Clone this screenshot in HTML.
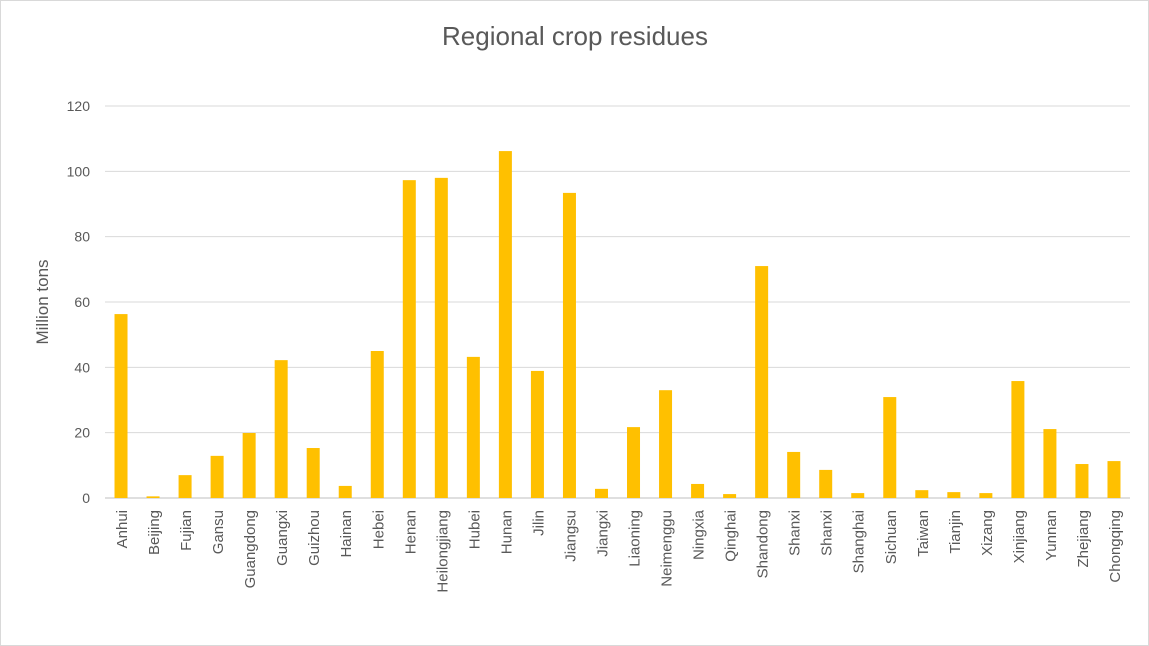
<!DOCTYPE html>
<html><head><meta charset="utf-8"><style>
body{margin:0;background:#fff;font-family:"Liberation Sans",Arial,sans-serif}
svg{display:block}
</style></head><body>
<svg id="chart" width="1149" height="646" xmlns="http://www.w3.org/2000/svg">
<rect x="0.5" y="0.5" width="1148" height="645" fill="#fff" stroke="#d9d9d9"/>
<text x="575" y="45" text-anchor="middle" font-size="26" fill="#595959">Regional crop residues</text>
<text transform="translate(48,302) rotate(-90)" text-anchor="middle" font-size="17" fill="#595959">Million tons</text>
<g id="grid"></g><g id="bars"></g><g id="xlabels"></g>
</svg>
<script>
const categories=["Anhui","Beijing","Fujian","Gansu","Guangdong","Guangxi","Guizhou","Hainan","Hebei","Henan","Heilongjiang","Hubei","Hunan","Jilin","Jiangsu","Jiangxi","Liaoning","Neimenggu","Ningxia","Qinghai","Shandong","Shanxi","Shanxi","Shanghai","Sichuan","Taiwan","Tianjin","Xizang","Xinjiang","Yunnan","Zhejiang","Chongqing"];
const values=[56.3,0.5,7,12.9,19.9,42.2,15.3,3.7,45,97.3,98,43.2,106.2,38.9,93.4,2.8,21.7,33,4.3,1.2,71,14.1,8.6,1.5,30.9,2.4,1.8,1.5,35.8,21.1,10.4,11.3];
const yTicks=[0,20,40,60,80,100,120];
const NS="http://www.w3.org/2000/svg";
const x0=105,x1=1130,yBase=498,yTop=106,yMax=120;
const y=v=>yBase-(v/yMax)*(yBase-yTop);
const band=(x1-x0)/categories.length;
const xc=i=>x0+band*(i+0.5);
const grid=document.getElementById('grid'),bars=document.getElementById('bars'),xl=document.getElementById('xlabels');
yTicks.forEach(t=>{
 const l=document.createElementNS(NS,'line');
 
 
 l.setAttribute('x1',x0);l.setAttribute('x2',x1);l.setAttribute('y1',y(t));l.setAttribute('y2',y(t));
 l.setAttribute('stroke',t===0?'#bfbfbf':'#d9d9d9');l.setAttribute('stroke-width','1');
 grid.appendChild(l);
 const tx=document.createElementNS(NS,'text');
 
 
 tx.setAttribute('x',90);tx.setAttribute('y',y(t)+5);tx.setAttribute('text-anchor','end');
 tx.setAttribute('font-size','14');tx.setAttribute('fill','#595959');tx.textContent=t;
 grid.appendChild(tx);
});
categories.forEach((c,i)=>{
 const r=document.createElementNS(NS,'rect');
 
 
 r.setAttribute('x',xc(i)-6.5);r.setAttribute('width',13);
 r.setAttribute('y',y(values[i]));r.setAttribute('height',yBase-y(values[i]));
 r.setAttribute('fill','#ffc000');
 bars.appendChild(r);
 const t=document.createElementNS(NS,'text');
 
 
 t.setAttribute('transform','translate('+(xc(i)+6)+',510) rotate(-90)');
 t.setAttribute('text-anchor','end');t.setAttribute('font-size','15');t.setAttribute('fill','#595959');
 t.textContent=c;
 xl.appendChild(t);
});
</script>
</body></html>
